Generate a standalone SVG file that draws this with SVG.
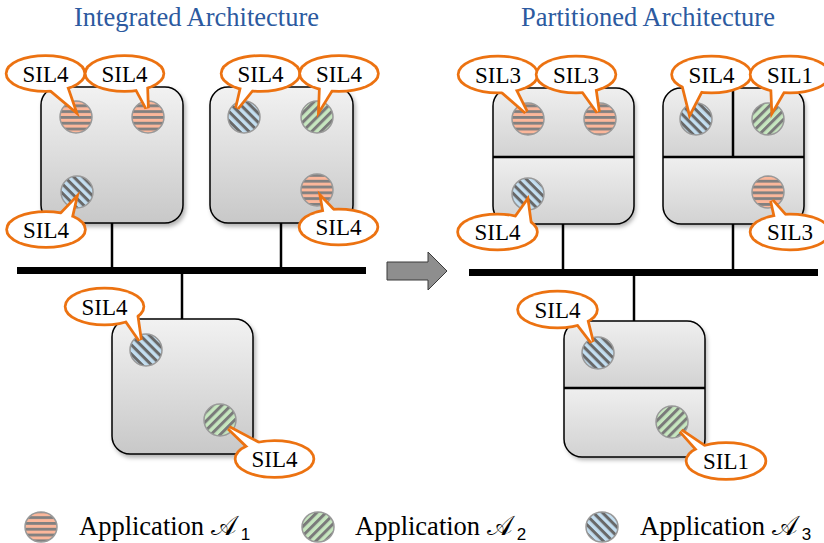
<svg xmlns="http://www.w3.org/2000/svg" width="824" height="543" viewBox="0 0 824 543">
<style>
.title{font-family:"Liberation Serif","Times New Roman",serif;font-size:26.5px;fill:#2c5aa0;text-anchor:middle}
.box{stroke:#000;stroke-width:1.5;fill:url(#boxGrad)}
.part{fill:url(#partGrad)}
.outline{fill:none;stroke:#000;stroke-width:1.5}
.div{stroke:#000;stroke-width:2.5}
.app{stroke:#999;stroke-width:1.5}
.a1{fill:url(#pA1)}
.a2{fill:url(#pA2)}
.a3{fill:url(#pA3)}
.cs{fill:#fff;stroke:#ec7211;stroke-width:5.5;stroke-linejoin:miter}
.cf{fill:#fff;stroke:none}
.lbl{font-family:"Liberation Serif","Times New Roman",serif;font-size:23px;fill:#000;text-anchor:middle}
.bus{stroke:#000;stroke-width:7}
.link{stroke:#000;stroke-width:2.5}
.leg{font-family:"Liberation Serif","Times New Roman",serif;font-size:26.5px;fill:#000}
.sub{font-family:"Liberation Sans",Arial,sans-serif;font-size:17px}
</style>
<defs>
<linearGradient id="boxGrad" x1="0" y1="0" x2="0" y2="1">
<stop offset="0" stop-color="#f2f2f2"/><stop offset="1" stop-color="#c8c8c8"/>
</linearGradient>
<linearGradient id="partGrad" x1="0" y1="0" x2="0" y2="1">
<stop offset="0" stop-color="#efefef"/><stop offset="1" stop-color="#d2d2d2"/>
</linearGradient>
<pattern id="pA1" patternUnits="userSpaceOnUse" width="6" height="5.8">
<rect width="6" height="5.8" fill="#fbb79b"/><rect width="6" height="2.8" fill="#808080"/>
</pattern>
<pattern id="pA2" patternUnits="userSpaceOnUse" width="6.5" height="6.5" patternTransform="rotate(-45)">
<rect width="6.5" height="6.5" fill="#c6e6bf"/><rect width="6.5" height="3" fill="#7a7a7a"/>
</pattern>
<pattern id="pA3" patternUnits="userSpaceOnUse" width="6.5" height="6.5" patternTransform="rotate(45)">
<rect width="6.5" height="6.5" fill="#c3def0"/><rect width="6.5" height="3" fill="#686868"/>
</pattern>
<filter id="sh" x="-10%" y="-10%" width="130%" height="130%">
<feDropShadow dx="2" dy="3" stdDeviation="2" flood-color="#000" flood-opacity="0.3"/>
</filter>
<clipPath id="clipR1"><rect x="493" y="88" width="141" height="136" rx="18"/></clipPath>
<clipPath id="clipR2"><rect x="663" y="88" width="141" height="136" rx="18"/></clipPath>
<clipPath id="clipR3"><rect x="564" y="321" width="141" height="136" rx="18"/></clipPath>
</defs>

<text class="title" x="196.5" y="26">Integrated Architecture</text>
<text class="title" x="648" y="26">Partitioned Architecture</text>

<g id="connectors">
<line class="link" x1="112" y1="223" x2="112" y2="270"/>
<line class="link" x1="281" y1="223" x2="281" y2="270"/>
<line class="link" x1="182" y1="270" x2="182" y2="319"/>
<line class="bus" x1="17" y1="270.5" x2="366" y2="270.5"/>
<line class="link" x1="563" y1="224" x2="563" y2="272"/>
<line class="link" x1="733" y1="224" x2="733" y2="272"/>
<line class="link" x1="634" y1="272" x2="634" y2="321"/>
<line class="bus" x1="469" y1="272.5" x2="818" y2="272.5"/>
<polygon points="387,262 428,262 428,252 447,271 428,290 428,280 387,280" fill="#8e8e8e" stroke="#3a3a3a" stroke-width="1"/>
</g>

<!-- Integrated architecture -->
<g id="node-int-1">
<rect class="box" x="41" y="87" width="142" height="136" rx="18" filter="url(#sh)"/>
<circle class="app a1" cx="76" cy="117" r="16"/>
<circle class="app a1" cx="148" cy="117" r="16"/>
<circle class="app a3" cx="77" cy="192" r="16"/>
<g>
<ellipse class="cs" cx="45.5" cy="73.5" rx="38" ry="16.5"/><polygon class="cs" points="43,83 64,80 74,109"/>
<ellipse class="cf" cx="45.5" cy="73.5" rx="38" ry="16.5"/><polygon class="cf" points="43,83 64,80 74,109"/>
<text class="lbl" x="45.5" y="81.5">SIL4</text>
</g>
<g>
<ellipse class="cs" cx="124.5" cy="73.5" rx="38" ry="16.5"/><polygon class="cs" points="133,82 146,80 147,108"/>
<ellipse class="cf" cx="124.5" cy="73.5" rx="38" ry="16.5"/><polygon class="cf" points="133,82 146,80 147,108"/>
<text class="lbl" x="124.5" y="81.5">SIL4</text>
</g>
<g>
<ellipse class="cs" cx="46" cy="229.5" rx="38" ry="16.5"/><polygon class="cs" points="52,224 70,222 75,200"/>
<ellipse class="cf" cx="46" cy="229.5" rx="38" ry="16.5"/><polygon class="cf" points="52,224 70,222 75,200"/>
<text class="lbl" x="46" y="237.5">SIL4</text>
</g>
</g>

<g id="node-int-2">
<rect class="box" x="210" y="87" width="143" height="136" rx="18" filter="url(#sh)"/>
<circle class="app a3" cx="244" cy="117" r="16"/>
<circle class="app a2" cx="317" cy="117" r="16"/>
<circle class="app a1" cx="317" cy="190" r="16"/>
<g>
<ellipse class="cs" cx="260.5" cy="73.5" rx="38" ry="16.5"/><polygon class="cs" points="243,82 258,82 237,108"/>
<ellipse class="cf" cx="260.5" cy="73.5" rx="38" ry="16.5"/><polygon class="cf" points="243,82 258,82 237,108"/>
<text class="lbl" x="260.5" y="81.5">SIL4</text>
</g>
<g>
<ellipse class="cs" cx="339" cy="73.5" rx="38" ry="16.5"/><polygon class="cs" points="321,82 336,82 320,108"/>
<ellipse class="cf" cx="339" cy="73.5" rx="38" ry="16.5"/><polygon class="cf" points="321,82 336,82 320,108"/>
<text class="lbl" x="339" y="81.5">SIL4</text>
</g>
<g>
<ellipse class="cs" cx="338.5" cy="227" rx="38" ry="16.5"/><polygon class="cs" points="326,222 342,220 322,199"/>
<ellipse class="cf" cx="338.5" cy="227" rx="38" ry="16.5"/><polygon class="cf" points="326,222 342,220 322,199"/>
<text class="lbl" x="338.5" y="235">SIL4</text>
</g>
</g>

<g id="node-int-3">
<rect class="box" x="112" y="319" width="141" height="135" rx="18" filter="url(#sh)"/>
<circle class="app a3" cx="146" cy="350" r="16"/>
<circle class="app a2" cx="220" cy="420" r="16"/>
<g>
<ellipse class="cs" cx="104.5" cy="306.5" rx="38" ry="17"/><polygon class="cs" points="122,314 136,312 140,340"/>
<ellipse class="cf" cx="104.5" cy="306.5" rx="38" ry="17"/><polygon class="cf" points="122,314 136,312 140,340"/>
<text class="lbl" x="104.5" y="314.5">SIL4</text>
</g>
<g>
<ellipse class="cs" cx="274.5" cy="459" rx="38" ry="17"/><polygon class="cs" points="265,447 258,456 229,428"/>
<ellipse class="cf" cx="274.5" cy="459" rx="38" ry="17"/><polygon class="cf" points="265,447 258,456 229,428"/>
<text class="lbl" x="274.5" y="467">SIL4</text>
</g>
</g>

<!-- Partitioned architecture -->
<g id="node-part-1">
<g filter="url(#sh)">
<g clip-path="url(#clipR1)">
<rect class="part" x="493" y="88" width="141" height="69"/>
<rect class="part" x="493" y="157" width="141" height="67"/>
</g>
</g>
<rect class="outline" x="493" y="88" width="141" height="136" rx="18"/>
<line class="div" x1="493" y1="157" x2="634" y2="157"/>
<circle class="app a1" cx="528" cy="119" r="16"/>
<circle class="app a1" cx="600" cy="119" r="16"/>
<circle class="app a3" cx="528" cy="194" r="16"/>
<g>
<ellipse class="cs" cx="498" cy="74.5" rx="38.5" ry="17"/><polygon class="cs" points="495,85 512,84 526,112"/>
<ellipse class="cf" cx="498" cy="74.5" rx="38.5" ry="17"/><polygon class="cf" points="495,85 512,84 526,112"/>
<text class="lbl" x="498" y="83">SIL3</text>
</g>
<g>
<ellipse class="cs" cx="576" cy="74.5" rx="38.5" ry="17"/><polygon class="cs" points="578,84 594,84 598,112"/>
<ellipse class="cf" cx="576" cy="74.5" rx="38.5" ry="17"/><polygon class="cf" points="578,84 594,84 598,112"/>
<text class="lbl" x="576" y="83">SIL3</text>
</g>
<g>
<ellipse class="cs" cx="497.5" cy="232" rx="38.5" ry="16.5"/><polygon class="cs" points="510,226 530,224 527,202"/>
<ellipse class="cf" cx="497.5" cy="232" rx="38.5" ry="16.5"/><polygon class="cf" points="510,226 530,224 527,202"/>
<text class="lbl" x="497.5" y="240">SIL4</text>
</g>
</g>

<g id="node-part-2">
<g filter="url(#sh)">
<g clip-path="url(#clipR2)">
<rect class="part" x="663" y="88" width="70" height="69"/>
<rect class="part" x="733" y="88" width="71" height="69"/>
<rect class="part" x="663" y="157" width="141" height="67"/>
</g>
</g>
<rect class="outline" x="663" y="88" width="141" height="136" rx="18"/>
<line class="div" x1="663" y1="157" x2="804" y2="157"/>
<line class="div" x1="733" y1="88" x2="733" y2="157"/>
<circle class="app a3" cx="696" cy="119" r="16"/>
<circle class="app a2" cx="768" cy="119" r="16"/>
<circle class="app a1" cx="768" cy="192" r="16"/>
<g>
<ellipse class="cs" cx="711.5" cy="74.5" rx="38.5" ry="17"/><polygon class="cs" points="683,84 705,83 690,112"/>
<ellipse class="cf" cx="711.5" cy="74.5" rx="38.5" ry="17"/><polygon class="cf" points="683,84 705,83 690,112"/>
<text class="lbl" x="711.5" y="83">SIL4</text>
</g>
<g>
<ellipse class="cs" cx="790" cy="74.5" rx="38.5" ry="17"/><polygon class="cs" points="772,84 788,83 773,109"/>
<ellipse class="cf" cx="790" cy="74.5" rx="38.5" ry="17"/><polygon class="cf" points="772,84 788,83 773,109"/>
<text class="lbl" x="790" y="83">SIL1</text>
</g>
<g>
<ellipse class="cs" cx="790" cy="232" rx="38.5" ry="16.5"/><polygon class="cs" points="778,228 794,226 772,201"/>
<ellipse class="cf" cx="790" cy="232" rx="38.5" ry="16.5"/><polygon class="cf" points="778,228 794,226 772,201"/>
<text class="lbl" x="790" y="240">SIL3</text>
</g>
</g>

<g id="node-part-3">
<g filter="url(#sh)">
<g clip-path="url(#clipR3)">
<rect class="part" x="564" y="321" width="141" height="67"/>
<rect class="part" x="564" y="388" width="141" height="69"/>
</g>
</g>
<rect class="outline" x="564" y="321" width="141" height="136" rx="18"/>
<line class="div" x1="564" y1="388" x2="705" y2="388"/>
<circle class="app a3" cx="598" cy="353" r="16"/>
<circle class="app a2" cx="672" cy="422" r="16"/>
<g>
<ellipse class="cs" cx="557.5" cy="309.5" rx="38.5" ry="17"/><polygon class="cs" points="572,316 585,314 592,342"/>
<ellipse class="cf" cx="557.5" cy="309.5" rx="38.5" ry="17"/><polygon class="cf" points="572,316 585,314 592,342"/>
<text class="lbl" x="557.5" y="317.5">SIL4</text>
</g>
<g>
<ellipse class="cs" cx="726" cy="461" rx="38.5" ry="17"/><polygon class="cs" points="712,452 706,459 681,431"/>
<ellipse class="cf" cx="726" cy="461" rx="38.5" ry="17"/><polygon class="cf" points="712,452 706,459 681,431"/>
<text class="lbl" x="726" y="469">SIL1</text>
</g>
</g>

<!-- Legend -->
<g id="legend">
<ellipse class="app a1" cx="41" cy="527" rx="16" ry="15"/>
<text class="leg" x="79" y="535">Application <tspan font-family="'Liberation Serif','DejaVu Serif','DejaVu Sans',serif">𝒜</tspan><tspan class="sub" dx="4" dy="5">1</tspan></text>
<ellipse class="app a2" cx="318" cy="527" rx="16" ry="15"/>
<text class="leg" x="355" y="535">Application <tspan font-family="'Liberation Serif','DejaVu Serif','DejaVu Sans',serif">𝒜</tspan><tspan class="sub" dx="4" dy="5">2</tspan></text>
<ellipse class="app a3" cx="602" cy="527" rx="16" ry="15"/>
<text class="leg" x="640" y="535">Application <tspan font-family="'Liberation Serif','DejaVu Serif','DejaVu Sans',serif">𝒜</tspan><tspan class="sub" dx="4" dy="5">3</tspan></text>
</g>
</svg>
